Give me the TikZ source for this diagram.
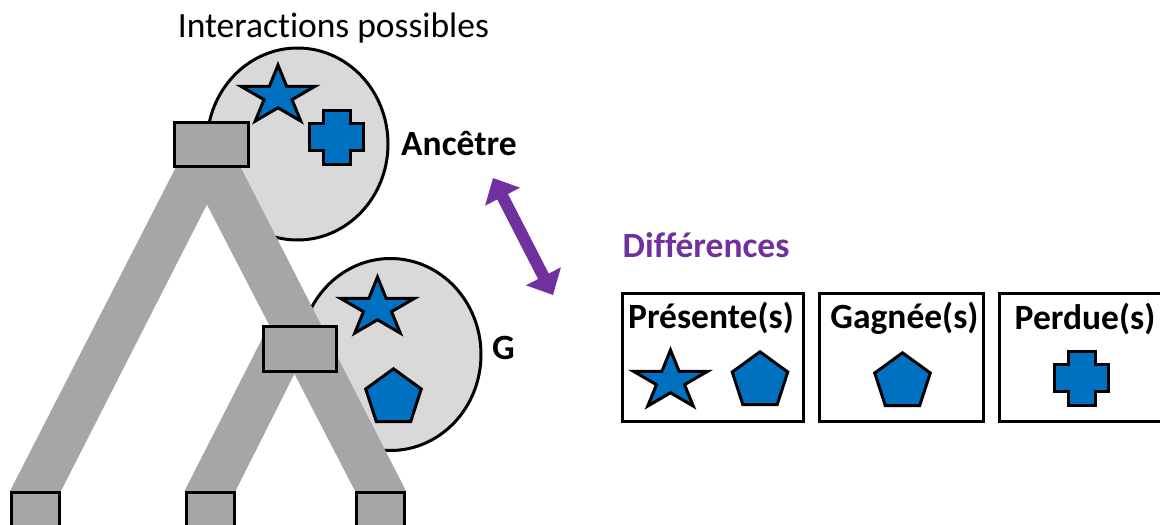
\documentclass[tikz,border=0pt]{standalone}
\usepackage{fontspec}
\setmainfont{Carlito}[Ligatures=NoCommon]
\usepackage{xcolor}
\usepackage{tikz}
\usetikzlibrary{shapes, arrows.meta, positioning, calc}

\definecolor{bleu}{HTML}{0070C0}
\definecolor{mauve}{HTML}{7030A0}
\definecolor{grisfonce}{HTML}{A6A6A6}
\definecolor{grisclair}{HTML}{D9D9D9}

\pgfdeclarelayer{fond}
\pgfdeclarelayer{branches}
\pgfsetlayers{fond,branches,main}

\tikzset{
  texte/.style={font=\fontsize{35.5}{42}\selectfont, inner sep=0pt},
  gras/.style={font=\fontsize{35.5}{42}\selectfont\bfseries, inner sep=0pt},
  bulle/.style={ellipse, draw, line width=3pt, fill=grisclair, minimum width=181pt, minimum height=192pt, inner sep=0pt},
  noeud/.style={rectangle, draw, line width=3pt, fill=grisfonce, inner sep=0pt},
  boite/.style={rectangle, draw, line width=3pt, minimum height=128pt, inner sep=0pt},
  forme/.style={draw, line width=3pt, fill=bleu, line join=miter},
  etoile/.pic={\path[forme] (-90:31) \foreach \k in {0,...,4} {-- ({-54+72*\k}:11.8) -- ({-18+72*\k}:31)} -- cycle;},
  pentagone/.pic={\path[forme] (-90:29.2) -- (-18:29.2) -- (54:29.2) -- (126:29.2) -- (198:29.2) -- cycle;},
  croix/.pic={\path[forme] (-13.5,-27) -- (13.5,-27) -- (13.5,-13.5) -- (27,-13.5) -- (27,13.5) -- (13.5,13.5) -- (13.5,27) -- (-13.5,27) -- (-13.5,13.5) -- (-27,13.5) -- (-27,-13.5) -- (-13.5,-13.5) -- cycle;}
}

\begin{document}
\begin{tikzpicture}[x=1pt, y=-1pt]
  \useasboundingbox (0,0) rectangle (1160,525);

  % Bulles d'interactions
  \begin{pgfonlayer}{fond}
    \node[bulle] (anc) at (297.5,144) {};
    \node[bulle] (bg) at (390.5,354.5) {};
  \end{pgfonlayer}

  % Noeuds de l'arbre
  \node[noeud, minimum width=74pt, minimum height=44pt] (racine) at (211.5,144.5) {};
  \node[noeud, minimum width=73pt, minimum height=45pt] (g) at (300,349) {};
  \node[noeud, minimum width=48pt, minimum height=45pt, anchor=north] (f1) at (35.5,491) {};
  \node[noeud, minimum width=48pt, minimum height=45pt, anchor=north] (f2) at (210,491) {};
  \node[noeud, minimum width=48pt, minimum height=45pt, anchor=north] (f3) at (380.5,491) {};

  % Branches
  \begin{pgfonlayer}{branches}
    \fill[grisfonce] ($(racine.south)+(-36,0)$) -- ($(racine.south)+(14,0)$) -- (f1.north east) -- (f1.north west) -- cycle;
    \fill[grisfonce] ($(racine.south)+(-23.5,0)$) -- ($(racine.south)+(29.5,0)$) -- (f3.north east) -- (f3.north west) -- cycle;
    \fill[grisfonce] ($(g.center)+(-36,-14)$) -- ($(g.center)+(14,-14)$) -- (f2.north east) -- (f2.north west) -- cycle;
  \end{pgfonlayer}

  % Formes dans les bulles
  \pic[xscale=1.25] at (278,96) {etoile};
  \pic at (336.5,137) {croix};
  \pic[xscale=1.25] at (377.5,308) {etoile};
  \pic at (393.5,398) {pentagone};

  % Libelles
  \node[texte, anchor=base] (titre) at (333.5,37) {Interactions possibles};
  \node[gras, anchor=base west] (lanc) at (401,155) {Ancêtre};
  \node[gras, anchor=base west] (lg) at (492,359) {G};

  % Comparaison
  \coordinate (fh) at (493,178);
  \coordinate (fb) at (553,295);
  \draw[mauve, line width=12pt, {Triangle[length=21pt,width=38pt]}-{Triangle[length=21pt,width=38pt]}] (fh) -- (fb);

  \node[gras, text=mauve, anchor=base west] (diff) at (622.5,257) {Différences};

  % Boites
  \node[boite, minimum width=181pt] (present) at (712.5,357.5) {};
  \node[boite, minimum width=163.5pt] (gagne) at (901.25,357.5) {};
  \node[boite, minimum width=181pt] (perdu) at (1090,357.5) {};
  \node[gras, anchor=base] (tpresent) at ($(present.north)+(-1.5,36)$) {Présente(s)};
  \node[gras, anchor=base] (tgagne) at ($(gagne.north)+(3.25,36)$) {Gagnée(s)};
  \node[gras, anchor=base] (tperdu) at ($(perdu.north)+(-5,37)$) {Perdue(s)};

  \pic[xscale=1.25] at (670.5,381) {etoile};
  \pic at (760,381) {pentagone};
  \pic at (902.5,382) {pentagone};
  \pic at (1081.5,378) {croix};
\end{tikzpicture}
\end{document}
